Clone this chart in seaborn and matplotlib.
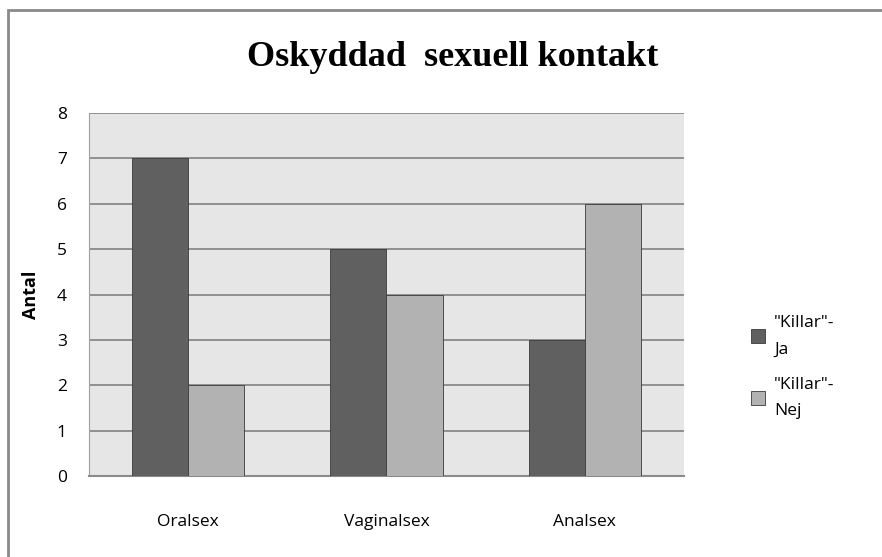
import pandas as pd
import matplotlib.pyplot as plt
import seaborn as sns
from matplotlib.patches import Rectangle

categories = ["Oralsex", "Vaginalsex", "Analsex"]
ja = [7, 5, 3]
nej = [2, 4, 6]
series = ['"Killar"-\nJa', '"Killar"-\nNej']

df = pd.DataFrame({
    "kategori": categories * 2,
    "antal": ja + nej,
    "grupp": [series[0]] * 3 + [series[1]] * 3,
})

sns.set_style("white")
plt.rcParams["font.family"] = ["Open Sans", "DejaVu Sans"]
plt.rcParams["text.color"] = "black"
plt.rcParams["xtick.color"] = "black"
plt.rcParams["ytick.color"] = "black"
plt.rcParams["axes.labelcolor"] = "black"

fig = plt.figure(figsize=(8.82, 5.57), dpi=100)
ax = fig.add_axes([0.1009, 0.1454, 0.6746, 0.6517])

sns.barplot(data=df, x="kategori", y="antal", hue="grupp",
            palette=["#606060", "#b2b2b2"], width=0.566,
            edgecolor="#3a3a3a", linewidth=0.6, ax=ax, zorder=3)

ax.set_facecolor("#e6e6e6")
ax.set_ylim(0, 8)
ax.set_yticks(range(0, 9))
ax.set_xlim(-0.5, 2.5)
ax.yaxis.grid(True, color="#8a8a8a", linewidth=1.3, zorder=0)
ax.set_axisbelow(True)
for s in ["top", "right"]:
    ax.spines[s].set_visible(False)
ax.spines["left"].set_color("#a0a0a0")
ax.spines["left"].set_linewidth(0.8)
ax.spines["bottom"].set_color("#8a8a8a")
ax.spines["bottom"].set_linewidth(1.5)
ax.tick_params(axis="y", length=8, width=1, color="#8a8a8a", pad=8, labelsize=12.5)
ax.tick_params(axis="x", length=0, pad=27, labelsize=12.5)
ax.set_xlabel("")
ax.set_ylabel("Antal", fontsize=13, fontweight="bold", labelpad=12)

leg = ax.legend(loc="center left", bbox_to_anchor=(1.087, 0.30), frameon=False,
                fontsize=12.5, handlelength=0.8, handleheight=0.8,
                handletextpad=0.5, labelspacing=1.1)
for t in leg.get_texts():
    t.set_linespacing(1.9)

fig.text(0.513, 0.897, "Oskyddad  sexuell kontakt", ha="center", va="center",
         fontsize=26, fontweight="bold", family="Liberation Serif")

fig.patches.append(Rectangle((8 / 882, -0.05), 1.2, 1 - 10 / 557 + 0.05,
                             transform=fig.transFigure, fill=False,
                             edgecolor="#8a8a8a", linewidth=2))

fig.savefig("out.png", dpi=100)
